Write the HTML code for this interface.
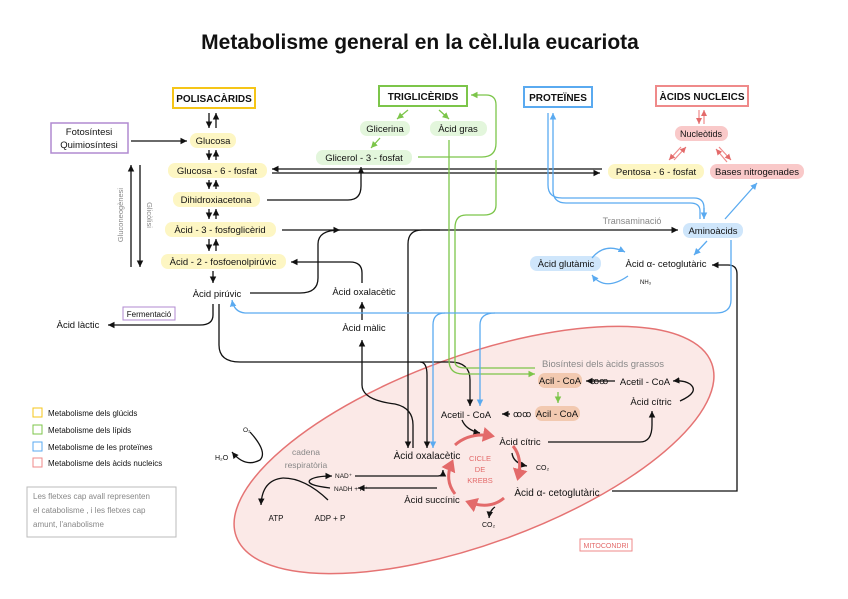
<!DOCTYPE html>
<html><head><meta charset="utf-8"><style>
html,body{margin:0;background:#fff;width:848px;height:599px;overflow:hidden}
svg{display:block}
text{font-family:"Liberation Sans",sans-serif;font-size:9.5px;fill:#111}
.b{font-weight:bold}
.g{fill:#888}
</style></head><body>
<svg width="848" height="599" viewBox="0 0 848 599" xmlns="http://www.w3.org/2000/svg">
<defs>
<marker id="ak" markerWidth="6" markerHeight="6" refX="5" refY="3" orient="auto"><path d="M0,0.5 L5,3 L0,5.5z" fill="#111"/></marker>
<marker id="ag" markerWidth="6" markerHeight="6" refX="5" refY="3" orient="auto"><path d="M0,0.5 L5,3 L0,5.5z" fill="#7cc54a"/></marker>
<marker id="ab" markerWidth="6" markerHeight="6" refX="5" refY="3" orient="auto"><path d="M0,0.5 L5,3 L0,5.5z" fill="#5aaaf0"/></marker>
<marker id="ar" markerWidth="6" markerHeight="6" refX="5" refY="3" orient="auto"><path d="M0,0.5 L5,3 L0,5.5z" fill="#e36a6a"/></marker>
<marker id="arr" markerWidth="5" markerHeight="5" refX="3" refY="2.5" orient="auto"><path d="M0,0 L4,2.5 L0,5z" fill="#e36a6a"/></marker>
</defs>
<ellipse cx="474" cy="450" rx="253" ry="94" transform="rotate(-20 474 450)" fill="#fbe9e7" stroke="#e57373" stroke-width="1.5"/>
<text x="420" y="49" text-anchor="middle" class="b" style="font-size:21px">Metabolisme general en la cèl.lula eucariota</text>

<rect x="173" y="88" width="82" height="20" fill="#fff" stroke="#f5c518" stroke-width="2"/><text x="214" y="102" text-anchor="middle" class="b" style="font-size:10px">POLISACÀRIDS</text>
<rect x="379" y="86" width="88" height="20" fill="#fff" stroke="#7cc54a" stroke-width="2"/><text x="423" y="100" text-anchor="middle" class="b" style="font-size:10px">TRIGLICÈRIDS</text>
<rect x="524" y="87" width="68" height="20" fill="#fff" stroke="#5aaaf0" stroke-width="2"/><text x="558" y="101" text-anchor="middle" class="b" style="font-size:10px">PROTEÏNES</text>
<rect x="656" y="86" width="92" height="20" fill="#fff" stroke="#ef8a8a" stroke-width="2"/><text x="702" y="100" text-anchor="middle" class="b" style="font-size:10px">ÀCIDS NUCLEICS</text>
<rect x="51" y="123" width="77" height="30" fill="#fff" stroke="#b08ad0" stroke-width="1.5"/><text x="89" y="135" text-anchor="middle">Fotosíntesi</text><text x="89" y="148" text-anchor="middle">Quimiosíntesi</text>

<g fill="#fdf6c3">
<rect x="190" y="133" width="46" height="15" rx="7"/>
<rect x="168" y="163" width="99" height="15" rx="7"/>
<rect x="173" y="192" width="87" height="15" rx="7"/>
<rect x="165" y="222" width="111" height="15" rx="7"/>
<rect x="161" y="254" width="125" height="15" rx="7"/>
<rect x="608" y="164" width="96" height="15" rx="7"/>
</g>
<text x="213" y="144" text-anchor="middle">Glucosa</text>
<text x="217" y="174" text-anchor="middle">Glucosa - 6 - fosfat</text>
<text x="216" y="203" text-anchor="middle">Dihidroxiacetona</text>
<text x="220" y="233" text-anchor="middle">Àcid - 3 - fosfoglicèrid</text>
<text x="223" y="265" text-anchor="middle">Àcid - 2 - fosfoenolpirúvic</text>
<text x="217" y="297" text-anchor="middle">Àcid pirúvic</text>
<text x="78" y="328" text-anchor="middle">Àcid làctic</text>
<rect x="123" y="307" width="52" height="13" fill="#fff" stroke="#b08ad0"/><text x="149" y="317" text-anchor="middle" style="font-size:8px">Fermentació</text>
<text x="364" y="295" text-anchor="middle">Àcid oxalacètic</text>
<text x="364" y="331" text-anchor="middle">Àcid màlic</text>
<text x="656" y="175" text-anchor="middle">Pentosa - 6 - fosfat</text>

<g fill="#e3f6dc"><rect x="360" y="121" width="50" height="15" rx="7"/><rect x="430" y="121" width="57" height="15" rx="7"/><rect x="316" y="150" width="96" height="15" rx="7"/></g>
<text x="385" y="132" text-anchor="middle">Glicerina</text><text x="458" y="132" text-anchor="middle">Àcid gras</text><text x="364" y="161" text-anchor="middle">Glicerol - 3 - fosfat</text>

<g fill="#f9c9c9"><rect x="675" y="126" width="53" height="15" rx="7"/><rect x="710" y="164" width="94" height="15" rx="7"/></g>
<text x="701" y="137" text-anchor="middle" style="font-size:9px">Nucleòtids</text><text x="757" y="175" text-anchor="middle">Bases nitrogenades</text>

<g fill="#cfe6fb"><rect x="683" y="223" width="60" height="15" rx="7"/><rect x="530" y="256" width="71" height="15" rx="7"/></g>
<text x="713" y="234" text-anchor="middle">Aminoàcids</text><text x="566" y="267" text-anchor="middle">Àcid glutàmic</text>
<text x="666" y="267" text-anchor="middle">Àcid α- cetoglutàric</text>
<text x="640" y="284" style="font-size:6px">NH₃</text>
<text x="632" y="224" text-anchor="middle" class="g" style="font-size:9px">Transaminació</text>

<text transform="translate(123 215) rotate(-90)" text-anchor="middle" class="g" style="font-size:7.5px">Gluconeogènesi</text>
<text transform="translate(147 215) rotate(90)" text-anchor="middle" class="g" style="font-size:7.5px">Glicòlisi</text>

<g stroke="#111" stroke-width="1.3" fill="none" marker-end="url(#ak)">
<path d="M209,113 V128"/><path d="M216,128 V113"/>
<path d="M209,150 V160"/><path d="M216,160 V150"/>
<path d="M209,180 V189"/><path d="M216,189 V180"/>
<path d="M209,209 V219"/><path d="M216,219 V209"/>
<path d="M209,239 V251"/><path d="M216,251 V239"/>
<path d="M213,271 V283"/>
<path d="M131,141 H187"/>
<path d="M131,267 V165"/><path d="M140,165 V267"/>
<path d="M602,169 H272"/><path d="M272,173 H600"/>
<path d="M267,200 H348 Q361,200 361,186 V167"/>
<path d="M282,230 H678"/>
<path d="M250,293 H300 Q318,293 318,278 V244 Q318,230 340,230"/>
<path d="M440,230 H422 Q408,230 408,244 V448"/>
<path d="M362,283 V273 Q362,262 350,262 H291"/>
<path d="M362,320 V302"/>
<path d="M413,448 V425 Q413,408 395,404 Q362,400 362,385 V340"/>
<path d="M213,304 V315 Q213,325 200,325 H108"/>
<path d="M219,304 V345 Q219,362 240,362 H450 Q470,362 470,380 V406"/>
<path d="M420,362 Q427,362 427,375 V448"/>
<path d="M612,491 H737 V274 Q737,265 728,265 H712"/>
<path d="M548,442 H640 Q652,442 652,425 V411"/>
<path d="M680,401 Q700,392 690,384 Q684,380 673,381"/>
<path d="M615,381 H586"/><path d="M510,414 H502"/>
<path d="M462,420 Q466,430 480,433"/>
<path d="M512,453 Q513,463 527,466"/>
<path d="M495,507 Q490,510 489,518"/>
<path d="M250,432 Q268,452 260,460 Q245,468 232,452"/>
<path d="M283,478 Q262,480 261,505"/>
<path d="M328,500 Q305,478 283,478" marker-end="none"/>
<path d="M330,488 Q305,485 310,480 Q315,476 332,476"/>
<path d="M355,476 H438 Q443,476 443,470"/>
<path d="M437,488 H358"/>
</g>
<text x="590" y="384" style="font-size:9px">ꝏꝏ</text>
<text x="513" y="417" style="font-size:9px">ꝏꝏ</text>

<g stroke="#7cc54a" stroke-width="1.3" fill="none" marker-end="url(#ag)">
<path d="M408,110 L397,119"/><path d="M439,110 L449,119"/><path d="M380,138 L371,148"/>
<path d="M418,157 H482 Q496,157 496,143 V105 Q496,95 486,95 H471"/>
<path d="M449,140 V360 Q449,374 463,374 H535"/>
<path d="M496,160 V205 Q496,215 484,215 H466 Q455,215 455,228 V362 Q455,368 466,368 H535" marker-end="none"/>
<path d="M558,392 V403"/>
</g>

<g stroke="#5aaaf0" stroke-width="1.3" fill="none" marker-end="url(#ab)">
<path d="M548,113 V185 Q548,198 562,198 H694 Q704,198 704,208 V219" marker-end="none"/>
<path d="M700,219 V211 Q700,203 690,203 H566 Q553,203 553,190 V113"/>
<path d="M704,208 V219"/>
<path d="M725,219 L757,183"/>
<path d="M707,241 L694,255"/>
<path d="M731,240 V300 Q731,313 716,313 H245 Q234,312 232,300"/>
<path d="M445,313 Q433,313 433,325 V448"/>
<path d="M495,313 Q480,313 480,325 V406"/>
<path d="M592,258 Q605,242 625,252"/>
<path d="M628,276 Q605,292 592,275"/>
</g>

<g stroke="#ef8a8a" stroke-width="1.2" fill="none" marker-end="url(#ar)">
<path d="M699,110 V124"/><path d="M704,124 V110"/>
<path d="M681,147 L669,160"/><path d="M674,160 L686,147"/>
<path d="M719,147 L731,160"/><path d="M727,162 L716,149"/>
</g>
<g stroke="#e36a6a" stroke-width="3" fill="none" marker-end="url(#arr)">
<path d="M455,445 Q470,432 492,436"/>
<path d="M513,446 Q523,458 518,478"/>
<path d="M504,498 Q490,510 468,502"/>
<path d="M455,494 Q444,480 452,462"/>
</g>
<text x="480" y="461" text-anchor="middle" style="font-size:7.5px;fill:#e36a6a">CICLE</text>
<text x="480" y="472" text-anchor="middle" style="font-size:7.5px;fill:#e36a6a">DE</text>
<text x="480" y="483" text-anchor="middle" style="font-size:7.5px;fill:#e36a6a">KREBS</text>

<text x="603" y="367" text-anchor="middle" class="g">Biosíntesi dels àcids grassos</text>
<rect x="538" y="373" width="44" height="15" rx="7" fill="#f2c9b0"/><text x="560" y="384" text-anchor="middle">Acil - CoA</text>
<rect x="535" y="406" width="45" height="15" rx="7" fill="#f2c9b0"/><text x="557" y="417" text-anchor="middle">Acil - CoA</text>
<text x="645" y="385" text-anchor="middle">Acetil - CoA</text>
<text x="651" y="405" text-anchor="middle">Àcid cítric</text>
<text x="466" y="418" text-anchor="middle">Acetil - CoA</text>
<text x="520" y="445" text-anchor="middle">Àcid cítric</text>
<text x="427" y="459" text-anchor="middle" style="font-size:10px">Àcid oxalacètic</text>
<text x="536" y="470" style="font-size:7px">CO₂</text>
<text x="557" y="496" text-anchor="middle" style="font-size:10px">Àcid α- cetoglutàric</text>
<text x="432" y="503" text-anchor="middle">Àcid succínic</text>
<text x="482" y="527" style="font-size:7px">CO₂</text>
<text x="306" y="455" text-anchor="middle" class="g" style="font-size:8.5px">cadena</text>
<text x="306" y="468" text-anchor="middle" class="g" style="font-size:8.5px">respiratòria</text>
<text x="243" y="432" style="font-size:6.5px">O₂</text>
<text x="215" y="460" style="font-size:7px">H₂O</text>
<text x="335" y="478" style="font-size:6.5px">NAD⁺</text>
<text x="334" y="491" style="font-size:6.5px">NADH + H⁺</text>
<text x="276" y="521" text-anchor="middle" style="font-size:8px">ATP</text>
<text x="330" y="521" text-anchor="middle" style="font-size:8px">ADP + P</text>
<rect x="580" y="539" width="52" height="12" fill="none" stroke="#ef8a8a"/><text x="606" y="548" text-anchor="middle" style="font-size:7px;fill:#e36a6a">MITOCONDRI</text>

<rect x="33" y="408" width="9" height="9" fill="none" stroke="#f5c518"/><text x="48" y="416" style="font-size:8px">Metabolisme dels glúcids</text>
<rect x="33" y="425" width="9" height="9" fill="none" stroke="#7cc54a"/><text x="48" y="433" style="font-size:8px">Metabolisme dels lípids</text>
<rect x="33" y="442" width="9" height="9" fill="none" stroke="#5aaaf0"/><text x="48" y="450" style="font-size:8px">Metabolisme de les proteïnes</text>
<rect x="33" y="458" width="9" height="9" fill="none" stroke="#ef8a8a"/><text x="48" y="466" style="font-size:8px">Metabolisme dels àcids nucleics</text>
<rect x="27" y="487" width="149" height="50" fill="none" stroke="#bbb"/>
<text x="33" y="499" class="g" style="font-size:8px">Les fletxes cap avall representen</text>
<text x="33" y="513" class="g" style="font-size:8px">el catabolisme , i les fletxes cap</text>
<text x="33" y="527" class="g" style="font-size:8px">amunt, l'anabolisme</text>
</svg>
</body></html>
